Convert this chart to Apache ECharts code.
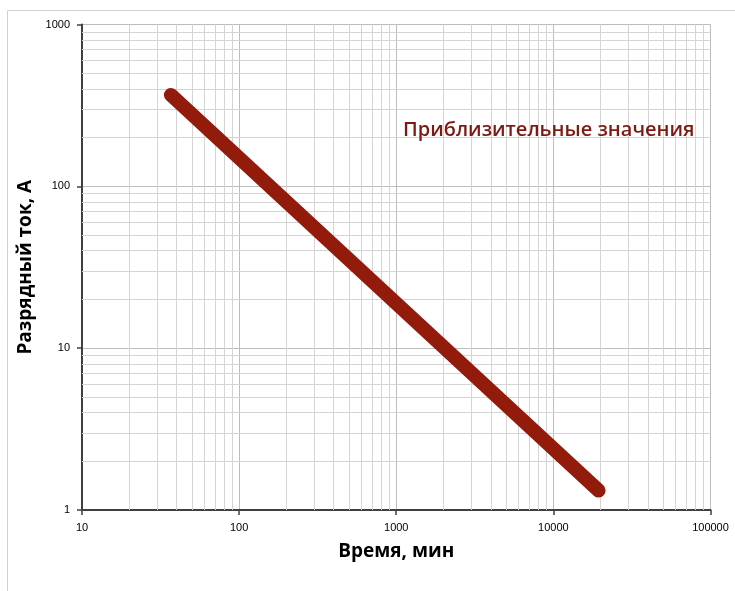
<!DOCTYPE html>
<html><head><meta charset="utf-8">
<script src="https://cdn.jsdelivr.net/npm/echarts@6/dist/echarts.min.js"></script>
<style>html,body{margin:0;padding:0;background:#fff}#c{width:735px;height:591px}</style>
</head><body><div id="c"></div>
<script>
const timeMin = [36.8, 19400];
const currentA = [367, 1.32];
const xTickLabels = ['10','100','1000','10000','100000'];
const yTickLabels = ['1','10','100','1000'];
const xDecades = [10, 100, 1000, 10000];
const yDecades = [1, 10, 100];
const minorSteps = [2,3,4,5,6,7,8,9];

const xMinor = [];
xDecades.forEach(d => minorSteps.forEach(m => xMinor.push({xAxis: d*m})));
const yMinor = [];
yDecades.forEach(d => minorSteps.forEach(m => yMinor.push({yAxis: d*m})));

const chart = echarts.init(document.getElementById('c'));
const font = '"Liberation Sans", Arial, sans-serif';
chart.setOption({
  animation: false,
  backgroundColor: '#fff',
  grid: {left: 82, top: 24.5, right: 24.5, bottom: 81},
  graphic: [
    {type: 'rect', shape: {x: 7.5, y: 10.5, width: 740, height: 600}, style: {fill: 'none', stroke: '#d0d0d0', lineWidth: 1}, z: -10},
    {type: 'text', left: 403, top: 120, z: 100, style: {text: 'Приблизительные значения', fill: '#7d1a12', font: '600 20px "Open Sans", sans-serif'}}
  ],
  xAxis: {
    type: 'log', logBase: 10, min: 10, max: 100000,
    name: 'Время, мин', nameLocation: 'middle', nameGap: 32,
    nameTextStyle: {fontFamily: '"Open Sans", sans-serif', fontWeight: 'bold', fontSize: 19, color: '#000'},
    axisLine: {lineStyle: {color: '#404040', width: 2}},
    axisTick: {show: true, length: 5, lineStyle: {color: '#404040', width: 1.5}},
    axisLabel: {fontSize: 11, color: '#000', fontFamily: font, margin: 12,
      formatter: v => xTickLabels[Math.round(Math.log10(v)) - 1]},
    splitLine: {show: true, lineStyle: {color: '#bdbdbd', width: 1}}
  },
  yAxis: {
    type: 'log', logBase: 10, min: 1, max: 1000,
    name: 'Разрядный ток, А', nameLocation: 'middle', nameGap: 46,
    nameTextStyle: {fontFamily: '"Open Sans", sans-serif', fontWeight: 'bold', fontSize: 19, color: '#000'},
    axisLine: {show: true, lineStyle: {color: '#404040', width: 2}},
    axisTick: {show: true, length: 5, lineStyle: {color: '#404040', width: 1.5}},
    axisLabel: {fontSize: 11, color: '#000', fontFamily: font, margin: 12,
      formatter: v => yTickLabels[Math.round(Math.log10(v))]},
    splitLine: {show: true, lineStyle: {color: '#bdbdbd', width: 1}}
  },
  series: [
    {type: 'line', data: [], silent: true, z: 1,
      markLine: {silent: true, symbol: 'none', label: {show: false}, animation: false,
        lineStyle: {color: '#d4d4d4', width: 1, type: 'solid'},
        data: xMinor.concat(yMinor)}},
    {type: 'line', data: timeMin.map((t, i) => [t, currentA[i]]), showSymbol: false, z: 5,
      lineStyle: {color: '#921b0c', width: 14, cap: 'round'}}
  ]
});
</script></body></html>
